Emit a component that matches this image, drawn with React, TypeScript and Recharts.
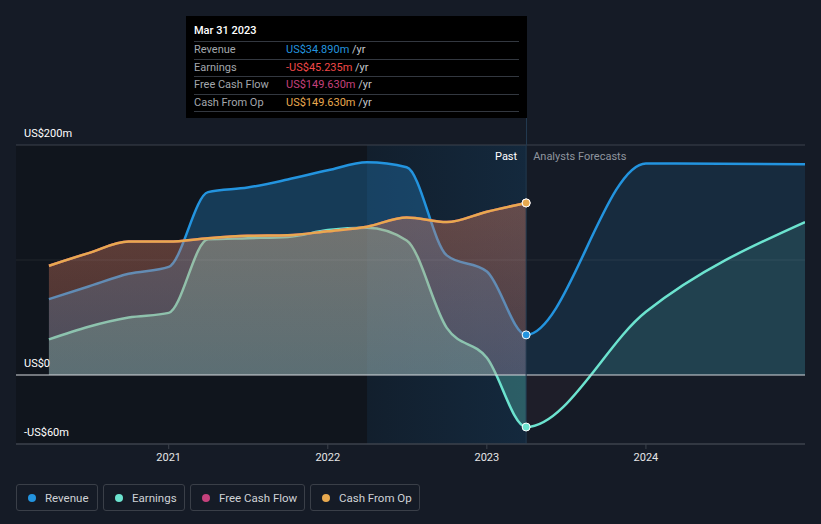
import React from 'react';
import {
  ComposedChart,
  Area,
  XAxis,
  YAxis,
  ReferenceLine,
  ReferenceArea,
  ReferenceDot,
} from 'recharts';

// ---------- data ----------
const pastDates = [2020.247, 2020.496, 2020.748, 2021.0, 2021.247, 2021.496, 2021.748, 2022.0, 2022.247, 2022.496, 2022.748, 2023.0, 2023.247];
const forecastDates = [2024.0, 2025.0];
const revenuePast = [66, 77, 88, 94, 159, 163, 170, 178, 185, 180.6, 104, 90, 34.89];
const revenueForecast = [184, 183.3];
const earningsPast = [31, 42, 50, 54, 118, 119, 120, 126, 128, 117, 41, 15, -45.235];
const earningsForecast = [55, 133];
const fcfPast = [95, 106, 116, 116, 119, 121, 121.5, 125, 129, 137, 133, 142, 149.63];
const cashOpPast = [95, 106, 116, 116, 119, 121, 121.5, 125, 129, 137, 133, 142, 149.63];
const xTicks = [2021, 2022, 2023, 2024];
const yLabelValues = [200, 0, -60];
const yLabelTexts = ['US$200m', 'US$0', '-US$60m'];
const seriesNames = ['Revenue', 'Earnings', 'Free Cash Flow', 'Cash From Op'];
const tooltipDate = 'Mar 31 2023';
const highlightStart = 2022.247;
const pastEnd = 2023.247;

const data = [
  ...pastDates.map((x, i) => ({
    x,
    revenue: revenuePast[i],
    earnings: earningsPast[i],
    fcf: fcfPast[i],
    cashOp: cashOpPast[i],
  })),
  ...forecastDates.map((x, i) => ({
    x,
    revenue: revenueForecast[i],
    earnings: earningsForecast[i],
  })),
];

// ---------- styles / layout ----------
const W = 821;
const H = 524;
const MARGIN = { top: 145, right: 16, bottom: 50, left: 16 };
const X_AXIS_H = 30;
const X0 = 2020.04;
const X1 = 2025.0;
const Y0 = -60;
const Y1 = 200;
const plotLeft = MARGIN.left;
const plotRight = W - MARGIN.right;
const plotTop = MARGIN.top;
const plotBottom = H - MARGIN.bottom - X_AXIS_H;
const sx = (t: number) => plotLeft + ((t - X0) / (X1 - X0)) * (plotRight - plotLeft);
const sy = (v: number) => plotTop + ((Y1 - v) / (Y1 - Y0)) * (plotBottom - plotTop);

const COLORS = {
  revenue: '#2394df',
  earnings: '#6ce3cf',
  fcf: '#c5417c',
  cashOp: '#e8a94f',
  neg: '#f04848',
};
const BG = '#151b26';
const FONT = 'Roboto, "Noto Sans", sans-serif';

const fmt = (v: number) =>
  (v < 0 ? '-' : '') + 'US$' + Math.abs(v).toFixed(3) + 'm';

const YLabel = (props: any) => {
  const { viewBox, text } = props;
  if (!viewBox) return null;
  return (
    <text x={viewBox.x + 8} y={viewBox.y - 8} fill="#ffffff" fontSize={11} fontFamily={FONT}>
      {text}
    </text>
  );
};

const PastLabel = (props: any) => {
  const { viewBox } = props;
  if (!viewBox) return null;
  return (
    <g fontFamily={FONT} fontSize={11}>
      <text x={viewBox.x - 9} y={viewBox.y + 15} textAnchor="end" fill="#ffffff">
        Past
      </text>
      <text x={viewBox.x + 7} y={viewBox.y + 15} textAnchor="start" fill="#8f959e">
        Analysts Forecasts
      </text>
    </g>
  );
};

export default function App() {
  const last = pastDates.length - 1;
  const zeroY = sy(0);
  const splitX = sx(pastEnd);
  const tooltipRows = [
    { name: seriesNames[0], value: revenuePast[last], color: COLORS.revenue },
    { name: seriesNames[1], value: earningsPast[last], color: earningsPast[last] < 0 ? COLORS.neg : COLORS.earnings },
    { name: seriesNames[2], value: fcfPast[last], color: COLORS.fcf },
    { name: seriesNames[3], value: cashOpPast[last], color: COLORS.cashOp },
  ];
  const legendColors = [COLORS.revenue, COLORS.earnings, COLORS.fcf, COLORS.cashOp];
  const legendWidths = [82, 82, 115, 110];

  return (
    <div
      style={{
        position: 'absolute',
        left: 0,
        top: 0,
        width: W,
        height: H,
        background: BG,
        fontFamily: FONT,
        overflow: 'hidden',
      }}
    >
      <ComposedChart width={W} height={H} data={data} margin={MARGIN}>
        <defs>
          <linearGradient id="hlGrad" x1="0" y1="0" x2="1" y2="0">
            <stop offset="0%" stopColor="#2378be" stopOpacity={0.1} />
            <stop offset="100%" stopColor="#2378be" stopOpacity={0.2} />
          </linearGradient>
          <pattern id="revFill" patternUnits="userSpaceOnUse" x={0} y={0} width={W} height={H}>
            <rect x={0} y={0} width={splitX} height={H} fill={COLORS.revenue} fillOpacity={0.3} />
            <rect x={splitX} y={0} width={W - splitX} height={H} fill={COLORS.revenue} fillOpacity={0.13} />
          </pattern>
          <pattern id="earnFill" patternUnits="userSpaceOnUse" x={0} y={0} width={W} height={H}>
            <rect x={0} y={0} width={splitX} height={H} fill={COLORS.earnings} fillOpacity={0.28} />
            <rect x={splitX} y={0} width={W - splitX} height={zeroY} fill={COLORS.earnings} fillOpacity={0.12} />
            <rect x={splitX} y={zeroY} width={W - splitX} height={H - zeroY} fill="#e0506a" fillOpacity={0.045} />
          </pattern>
          <linearGradient id="fcfGrad" x1="0" y1="0" x2="0" y2="1">
            <stop offset="0%" stopColor={COLORS.fcf} stopOpacity={0.22} />
            <stop offset="100%" stopColor={COLORS.fcf} stopOpacity={0.15} />
          </linearGradient>
          <linearGradient id="cashGrad" x1="0" y1="0" x2="0" y2="1">
            <stop offset="0%" stopColor={COLORS.cashOp} stopOpacity={0.24} />
            <stop offset="100%" stopColor={COLORS.cashOp} stopOpacity={0.14} />
          </linearGradient>
        </defs>

        <XAxis
          dataKey="x"
          type="number"
          domain={[X0, X1]}
          ticks={xTicks}
          tickFormatter={(v: number) => String(Math.round(v))}
          height={X_AXIS_H}
          axisLine={{ stroke: '#3c424c' }}
          tickLine={{ stroke: '#3c424c' }}
          tickSize={5}
          tickMargin={4}
          tick={{ fill: '#e6e6e6', fontSize: 11, fontFamily: FONT }}
          allowDataOverflow
        />
        <YAxis hide type="number" domain={[Y0, Y1]} allowDataOverflow />

        <ReferenceArea x1={X0} x2={pastEnd} y1={Y0} y2={Y1} fill="#000000" fillOpacity={0.22} stroke="none" />
        <ReferenceArea x1={highlightStart} x2={pastEnd} y1={Y0} y2={Y1} fill="url(#hlGrad)" fillOpacity={1} stroke="none" />

        <ReferenceLine y={yLabelValues[0]} stroke="#3c424c" label={<YLabel text={yLabelTexts[0]} />} />
        <ReferenceLine y={100} stroke="rgba(255,255,255,0.07)" />
        <ReferenceLine y={yLabelValues[2]} stroke="#3c424c" label={<YLabel text={yLabelTexts[2]} />} />

        <Area
          type="monotone"
          dataKey="revenue"
          stroke={COLORS.revenue}
          strokeWidth={2.5}
          fill="url(#revFill)"
          fillOpacity={1}
          dot={false}
          activeDot={false}
          isAnimationActive={false}
        />
        <Area
          type="monotone"
          dataKey="earnings"
          stroke={COLORS.earnings}
          strokeWidth={2.5}
          fill="url(#earnFill)"
          fillOpacity={1}
          dot={false}
          activeDot={false}
          isAnimationActive={false}
        />
        <Area
          type="monotone"
          dataKey="fcf"
          stroke={COLORS.fcf}
          strokeWidth={2.5}
          fill="url(#fcfGrad)"
          fillOpacity={1}
          dot={false}
          activeDot={false}
          isAnimationActive={false}
        />
        <Area
          type="monotone"
          dataKey="cashOp"
          stroke={COLORS.cashOp}
          strokeWidth={2.5}
          fill="url(#cashGrad)"
          fillOpacity={1}
          dot={false}
          activeDot={false}
          isAnimationActive={false}
        />

        <ReferenceLine y={yLabelValues[1]} stroke="#d6dade" strokeWidth={1.2} label={<YLabel text={yLabelTexts[1]} />} />
        <ReferenceLine x={pastEnd} stroke="#22394f" strokeWidth={1} label={<PastLabel />} />

        <ReferenceDot x={pastEnd} y={revenuePast[last]} r={4} fill={COLORS.revenue} stroke="#ffffff" strokeWidth={1} />
        <ReferenceDot x={pastEnd} y={earningsPast[last]} r={4} fill={COLORS.earnings} stroke="#ffffff" strokeWidth={1} />
        <ReferenceDot x={pastEnd} y={fcfPast[last]} r={4} fill={COLORS.fcf} stroke="#ffffff" strokeWidth={1} />
        <ReferenceDot x={pastEnd} y={cashOpPast[last]} r={4} fill={COLORS.cashOp} stroke="#ffffff" strokeWidth={1} />
      </ComposedChart>

      {/* cursor line extension up to tooltip */}
      <div
        style={{
          position: 'absolute',
          left: Math.round(splitX) - 0.5,
          top: 118,
          width: 1,
          height: plotTop - 118,
          background: '#22394f',
        }}
      />

      {/* static tooltip */}
      <div
        style={{
          position: 'absolute',
          left: 186,
          top: 16,
          width: 341,
          height: 102,
          background: '#000000',
          boxSizing: 'border-box',
          padding: '7px 8px 0 8px',
          fontSize: 11,
        }}
      >
        <div style={{ color: '#ffffff', height: 16, lineHeight: '16px', fontWeight: 500, marginBottom: 2 }}>
          {tooltipDate}
        </div>
        {tooltipRows.map((r, i) => (
          <div
            key={r.name}
            style={{
              display: 'flex',
              height: 16.5,
              lineHeight: '16.5px',
              borderTop: '1px solid #333840',
              borderBottom: i === tooltipRows.length - 1 ? '1px solid #333840' : 'none',
            }}
          >
            <div style={{ width: 92, color: '#a3a7ad' }}>{r.name}</div>
            <div>
              <span style={{ color: r.color }}>{fmt(r.value)}</span>
              <span style={{ color: '#c4c7cc' }}> /yr</span>
            </div>
          </div>
        ))}
      </div>

      {/* legend */}
      <div style={{ position: 'absolute', left: 16, top: 484, display: 'flex', gap: 5 }}>
        {seriesNames.map((n, i) => (
          <div
            key={n}
            style={{
              width: legendWidths[i],
              height: 27,
              boxSizing: 'border-box',
              border: '1px solid #3a3f48',
              borderRadius: 3,
              display: 'flex',
              alignItems: 'center',
              paddingLeft: 11,
              fontSize: 11.5,
              color: '#cfd2d6',
              whiteSpace: 'nowrap',
            }}
          >
            <span
              style={{
                width: 8,
                height: 8,
                borderRadius: 4,
                background: legendColors[i],
                display: 'inline-block',
                marginRight: 9,
                flex: 'none',
              }}
            />
            {n}
          </div>
        ))}
      </div>
    </div>
  );
}
